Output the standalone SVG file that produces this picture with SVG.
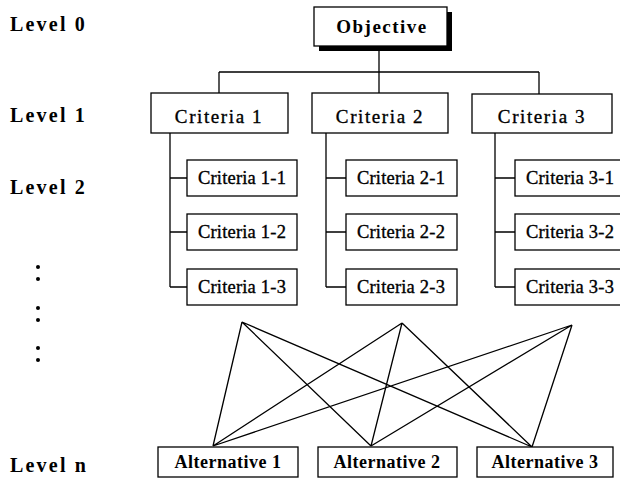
<svg xmlns="http://www.w3.org/2000/svg" width="620" height="480" viewBox="0 0 620 480">
<style>
.box{fill:#fff;stroke:#000;stroke-width:1.3}
.ln{stroke:#000;stroke-width:1.3;fill:none}
.lvl{font-family:"Liberation Serif",serif;font-weight:bold;font-size:20px;letter-spacing:2.2px;fill:#000}
.t1{font-family:"Liberation Serif",serif;font-size:19px;letter-spacing:1.6px;text-anchor:middle;fill:#000;stroke:#000;stroke-width:0.35}
.t2{font-family:"Liberation Serif",serif;font-size:18.5px;letter-spacing:0.2px;text-anchor:middle;fill:#000;stroke:#000;stroke-width:0.35}
.ta{font-family:"Liberation Serif",serif;font-weight:bold;font-size:18px;letter-spacing:0.5px;text-anchor:middle;fill:#000}
.to{font-family:"Liberation Serif",serif;font-weight:bold;font-size:19px;letter-spacing:1.5px;text-anchor:middle;fill:#000}
</style>
<rect width="620" height="480" fill="#fff"/>
<g id="levels">
<text class="lvl" x="10" y="31">Level 0</text>
<text class="lvl" x="10" y="122">Level 1</text>
<text class="lvl" x="10" y="194">Level 2</text>
<text class="lvl" x="10" y="472">Level n</text>
<g fill="#000">
<circle cx="38" cy="267" r="2"/><circle cx="38" cy="279" r="2"/>
<circle cx="38" cy="308" r="2"/><circle cx="38" cy="320" r="2"/>
<circle cx="38" cy="348" r="2"/><circle cx="38" cy="360" r="2"/>
</g>
</g>
<g id="connectors">
<path class="ln" d="M379 46V72M219 72H539M219 72V93M379 72V93M539 72V94"/>
<path class="ln" d="M170 133V287M170 178H187M170 232H187M170 287H187"/>
<path class="ln" d="M326 133V287M326 178H346M326 232H346M326 287H346"/>
<path class="ln" d="M495 133V287M495 178H515M495 232H515M495 287H515"/>
<path class="ln" d="M242 322L213 446M242 322L371 446M242 322L532 447M402 323L213 446M402 323L371 446M402 323L532 447M572 325L213 446M572 325L371 446M572 325L532 447"/>
</g>
<g id="objective">
<rect x="319" y="12" width="133" height="39" fill="#000"/>
<rect class="box" x="314" y="7" width="133" height="39"/>
<text class="to" x="382" y="33">Objective</text>
</g>
<g id="criteria1"><rect class="box" x="151" y="93" width="137" height="40"/><text class="t1" x="219" y="123">Criteria 1</text></g>
<g id="criteria2"><rect class="box" x="312" y="93" width="136" height="40"/><text class="t1" x="380" y="123">Criteria 2</text></g>
<g id="criteria3"><rect class="box" x="472" y="94" width="140" height="39"/><text class="t1" x="542" y="123">Criteria 3</text></g>
<g id="criteria1-1"><rect class="box" x="187" y="160" width="110" height="36"/><text class="t2" x="242" y="184">Criteria 1-1</text></g>
<g id="criteria1-2"><rect class="box" x="187" y="214" width="110" height="36"/><text class="t2" x="242" y="238">Criteria 1-2</text></g>
<g id="criteria1-3"><rect class="box" x="187" y="269" width="110" height="36"/><text class="t2" x="242" y="293">Criteria 1-3</text></g>
<g id="criteria2-1"><rect class="box" x="346" y="160" width="111" height="36"/><text class="t2" x="401" y="184">Criteria 2-1</text></g>
<g id="criteria2-2"><rect class="box" x="346" y="214" width="111" height="36"/><text class="t2" x="401" y="238">Criteria 2-2</text></g>
<g id="criteria2-3"><rect class="box" x="346" y="269" width="111" height="36"/><text class="t2" x="401" y="293">Criteria 2-3</text></g>
<g id="criteria3-1"><rect class="box" x="515" y="160" width="112" height="36"/><text class="t2" x="570" y="184">Criteria 3-1</text></g>
<g id="criteria3-2"><rect class="box" x="515" y="214" width="112" height="36"/><text class="t2" x="570" y="238">Criteria 3-2</text></g>
<g id="criteria3-3"><rect class="box" x="515" y="269" width="112" height="36"/><text class="t2" x="570" y="293">Criteria 3-3</text></g>
<g id="alternative1"><rect class="box" x="158" y="447" width="140" height="30"/><text class="ta" x="228" y="468">Alternative 1</text></g>
<g id="alternative2"><rect class="box" x="318" y="447" width="139" height="30"/><text class="ta" x="387" y="468">Alternative 2</text></g>
<g id="alternative3"><rect class="box" x="477" y="447" width="136" height="30"/><text class="ta" x="545" y="468">Alternative 3</text></g>
</svg>
